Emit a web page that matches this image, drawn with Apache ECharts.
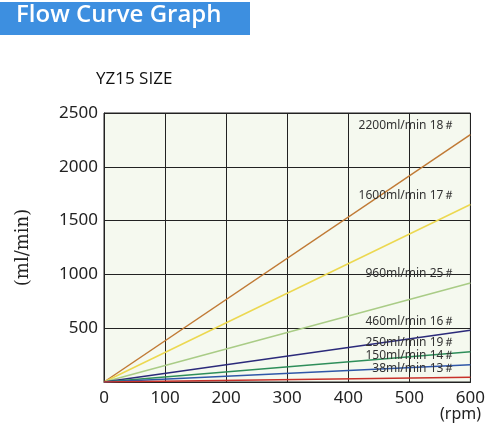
<!DOCTYPE html>
<html><head><meta charset="utf-8">
<script src="https://cdn.jsdelivr.net/npm/echarts@6/dist/echarts.min.js"></script>
<style>html,body{margin:0;background:#fff}#c{width:488px;height:430px}</style>
</head><body><div id="c"></div>
<script>
const xTicks = [0,100,200,300,400,500,600];
const names = ['2200ml/min 18＃','1600ml/min 17＃','960ml/min 25＃','460ml/min 16＃','250ml/min 19＃','150ml/min 14＃','38ml/min 13＃'];
const endValues = [2300,1650,920,480,280,160,45];
const colors = ['#c07a35','#ecd850','#a9cc86','#2b2a7a','#2e8e5a','#2f57a8','#c8312a'];
const chart = echarts.init(document.getElementById('c'));
chart.setOption({
  animation:false,
  graphic:[
    {type:'rect',shape:{x:0,y:2,width:250,height:33},style:{fill:'#3d8fe0'}},
    {type:'text',left:16,top:3,style:{text:'Flow Curve Graph',fill:'#fff',font:'600 24px "Open Sans"'}},
    {type:'text',left:96,top:71,style:{text:'YZ15 SIZE',fill:'#111',font:'17px "Open Sans"'}},
    {type:'text',left:440,top:406,style:{text:'(rpm)',fill:'#222',font:'16px "Noto Sans"'}}
  ],
  grid:{left:104,right:12,top:113,bottom:48,show:true,backgroundColor:'#f5f9ef',borderColor:'#222',borderWidth:1},
  xAxis:{type:'value',min:0,max:600,interval:100,
    axisLine:{lineStyle:{color:'#222'}},axisTick:{show:false},
    axisLabel:{color:'#222',fontSize:17,fontFamily:'Noto Sans',margin:8},
    splitLine:{lineStyle:{color:'#222',width:1}}},
  yAxis:{type:'value',min:0,max:2500,interval:500,name:'(ml/min)',nameLocation:'middle',nameGap:72,
    nameTextStyle:{fontFamily:'DejaVu Serif',fontSize:18,color:'#222'},
    axisLine:{show:true,lineStyle:{color:'#222'}},axisTick:{show:false},
    axisLabel:{color:'#222',fontSize:17,fontFamily:'Noto Sans',margin:6,formatter:v=>v===0?'':v},
    splitLine:{lineStyle:{color:'#222',width:1}}},
  series:names.map((n,i)=>({type:'line',name:n,symbol:'circle',symbolSize:0.1,showSymbol:true,silent:true,
    itemStyle:{color:colors[i]},
    lineStyle:{color:colors[i],width:1.5},
    data:[[0,0],{value:[600,endValues[i]],label:{show:true,formatter:n,position:'left',offset:[-10,-9],color:'#333',fontSize:12,fontFamily:'Noto Sans'}}]}))
});
</script></body></html>
